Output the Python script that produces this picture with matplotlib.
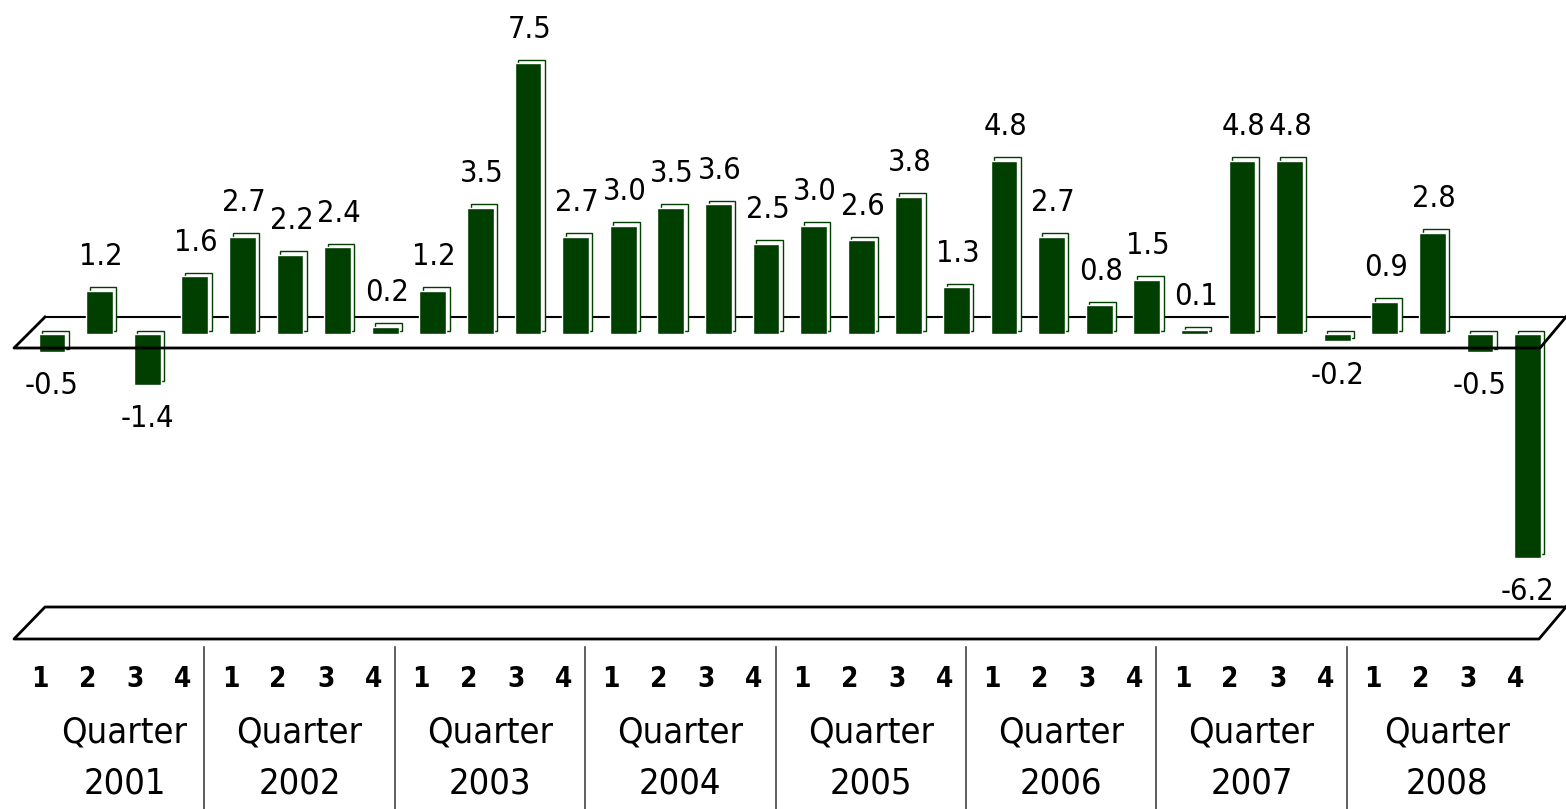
import matplotlib
matplotlib.use("Agg")
import matplotlib.pyplot as plt
import matplotlib.transforms as mtransforms
from matplotlib import font_manager as fm
import numpy as np

# quarterly values 2001-2008
years = ["2001", "2002", "2003", "2004", "2005", "2006", "2007", "2008"]
quarters = ["1", "2", "3", "4"]
values = [-0.5, 1.2, -1.4, 1.6,
          2.7, 2.2, 2.4, 0.2,
          1.2, 3.5, 7.5, 2.7,
          3.0, 3.5, 3.6, 2.5,
          3.0, 2.6, 3.8, 1.3,
          4.8, 2.7, 0.8, 1.5,
          0.1, 4.8, 4.8, -0.2,
          0.9, 2.8, -0.5, -6.2]

GREEN = "#003f00"
W, H = 1566, 809


def pick_font():
    # narrow font if one is around, otherwise condensed DejaVu, otherwise Liberation Sans
    names = {f.name for f in fm.fontManager.ttflist}
    if "Liberation Sans Narrow" in names:
        return dict(family=["Liberation Sans Narrow", "DejaVu Sans"])
    cond = [f for f in fm.fontManager.ttflist
            if f.name == "DejaVu Sans" and str(f.stretch) in ("condensed", "semi-condensed")]
    if cond:
        return dict(family=["DejaVu Sans"], fontstretch="condensed")
    return dict(family=["Liberation Sans", "DejaVu Sans"])


def main():
    font = pick_font()
    fig = plt.figure(figsize=(W / 100, H / 100), dpi=100)
    ax = fig.add_axes([0, 0, 1, 1])
    ax.axis("off")

    # scale: first bar centre at px 52, 47.6 px per bar; zero at py 334, 36.1 px per unit
    x0, dx = 52, 47.6
    y0, dy = 334, 36.1
    ax.set_xlim(-x0 / dx, (W - x0) / dx)
    ax.set_ylim(-(H - y0) / dy, y0 / dy)

    # pixel transform for decorations (y down)
    pix = mtransforms.Affine2D().scale(1 / W, -1 / H).translate(0, 1) + fig.transFigure
    xpix = mtransforms.blended_transform_factory(ax.transData, pix)

    x = np.arange(len(values))

    # back "depth" bars, shifted up-right
    back = ax.bar(x, values, width=0.56, color="white", edgecolor=GREEN, linewidth=1, zorder=2)
    offs = mtransforms.offset_copy(ax.transData, fig=fig, x=3.5, y=3.5, units="dots")
    for p in back:
        p.set_transform(offs)
    ax.bar(x, values, width=0.56, color=GREEN, edgecolor="white", linewidth=1, zorder=3)

    # floor
    ax.plot([45, W], [317, 317], color="black", lw=1.5, transform=pix, zorder=1)
    ax.plot([45, 14, 1540, W], [317, 348, 348, 317], color="black", lw=2, transform=pix, zorder=4)

    # bottom box
    ax.plot([W, 45, 14, 1539, W], [607, 607, 639, 639, 607], color="black", lw=2, transform=pix, zorder=4)

    # value labels
    for xi, v in zip(x, values):
        if v >= 0:
            ax.annotate(f"{v:.1f}", (xi, v), xytext=(1, 14), textcoords="offset points",
                        ha="center", va="bottom", fontsize=22, **font)
        else:
            ax.annotate(f"{v:.1f}", (xi, v), xytext=(0, -14), textcoords="offset points",
                        ha="center", va="top", fontsize=22, **font)

    # quarter numbers
    for i in range(len(values)):
        ax.text(i - 0.25, 679, quarters[i % 4], transform=xpix, ha="center", va="center",
                fontsize=20, fontweight="bold", **font)

    # year dividers and labels
    divs = [4 * k - 0.8 for k in range(1, len(years))]
    for d in divs:
        ax.plot([d, d], [647, H], color="#444444", lw=1.2, transform=xpix)
    bounds = [-0.15] + divs + [31.43]
    for k, yr in enumerate(years):
        c = (bounds[k] + bounds[k + 1]) / 2
        ax.text(c, 733, "Quarter", transform=xpix, ha="center", va="center", fontsize=26, **font)
        ax.text(c, 784, yr, transform=xpix, ha="center", va="center", fontsize=26, **font)

    plt.savefig("out.png", dpi=100)


if __name__ == "__main__":
    main()
